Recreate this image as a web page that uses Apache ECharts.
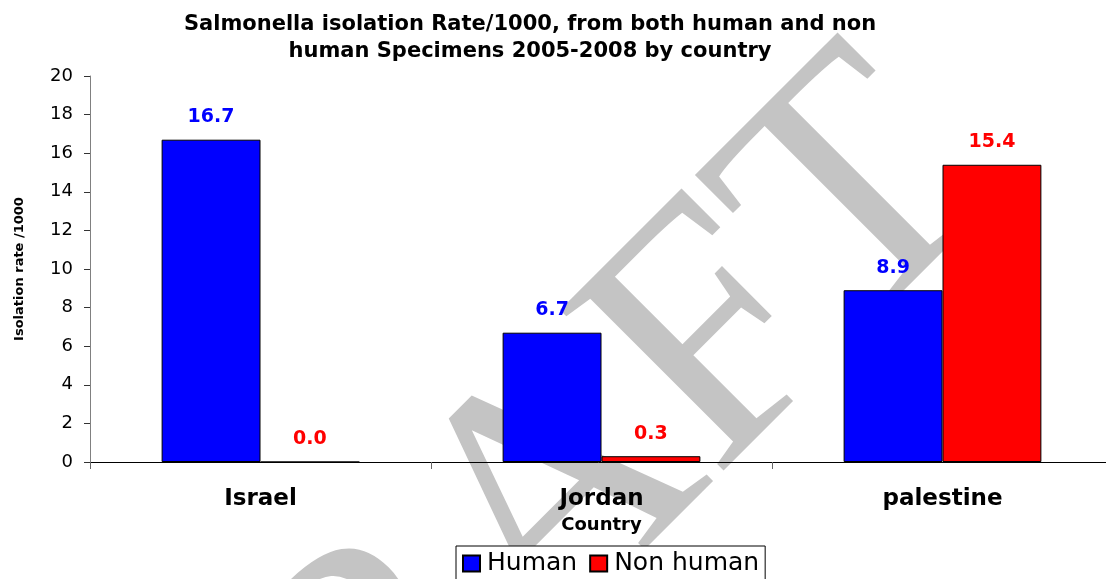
<!DOCTYPE html>
<html>
<head>
<meta charset="utf-8">
<script src="https://cdn.jsdelivr.net/npm/echarts@6/dist/echarts.min.js"></script>
<style>
  html, body { margin: 0; padding: 0; background: #ffffff; }
  #chart { width: 1106px; height: 579px; }
</style>
</head>
<body>
<div id="chart"></div>
<script>
const countries = ['Israel', 'Jordan', 'palestine']
const human = [16.7, 6.7, 8.9]
const nonHuman = [0.0, 0.3, 15.4]
const seriesNames = ['Human', 'Non human']

const font = '"DejaVu Sans", Verdana, sans-serif'

const chart = echarts.init(document.getElementById('chart'))

function barSeries(name, data, color) {
  return {
    name: name,
    type: 'bar',
    data: data,
    barGap: 0,
    barCategoryGap: '42%',
    itemStyle: { color: color, borderColor: '#000000', borderWidth: 1 },
    label: {
      show: true,
      position: 'top',
      distance: 13,
      color: color,
      fontFamily: font,
      fontWeight: 'bold',
      fontSize: 19,
      formatter: (p) => p.value.toFixed(1),
    },
  }
}

chart.setOption({
  animation: false,
  backgroundColor: '#ffffff',
  title: {
    text: 'Salmonella isolation Rate/1000, from both human and non\nhuman Specimens 2005-2008 by country',
    left: 525,
    top: 6,
    textAlign: 'center',
    textStyle: {
      fontFamily: font,
      fontWeight: 'bold',
      fontSize: 21,
      lineHeight: 27,
      color: '#000000',
    },
  },
  // grey DRAFT watermark behind the plot
  graphic: [
    {
      type: 'text',
      z: -10,
      x: 533,
      y: 531,
      rotation: Math.PI / 4,
      style: {
        text: 'DRAFT',
        font: '350px "Liberation Serif", "Times New Roman", serif',
        fill: '#c4c4c4',
        align: 'center',
        verticalAlign: 'middle',
      },
    },
  ],
  legend: {
    data: seriesNames,
    left: 456,
    top: 546,
    backgroundColor: '#ffffff',
    borderColor: '#000000',
    borderWidth: 1,
    borderRadius: 0,
    padding: [5, 6, 8, 6],
    itemWidth: 17,
    itemHeight: 16,
    itemGap: 12,
    icon: 'rect',
    textStyle: { fontFamily: font, fontSize: 25, color: '#000000', padding: [0, 0, 0, 2] },
  },
  grid: {
    left: 90,
    top: 76,
    width: 1023,
    height: 386,
    outerBoundsMode: 'none',
  },
  xAxis: {
    type: 'category',
    data: countries,
    name: 'Country',
    nameLocation: 'middle',
    nameGap: 54,
    nameTextStyle: { fontFamily: font, fontWeight: 'bold', fontSize: 18, color: '#000000' },
    axisLine: { lineStyle: { color: '#000000', width: 1 } },
    axisTick: { show: true, length: 7, lineStyle: { color: '#666666' } },
    axisLabel: { fontFamily: font, fontWeight: 'bold', fontSize: 23, color: '#000000', margin: 26 },
  },
  yAxis: {
    type: 'value',
    min: 0,
    max: 20,
    interval: 2,
    name: 'Isolation rate /1000',
    nameLocation: 'middle',
    nameGap: 64,
    nameRotate: 90,
    nameTextStyle: { fontFamily: font, fontWeight: 'bold', fontSize: 13, color: '#000000' },
    axisLine: { show: true, lineStyle: { color: '#808080', width: 1 } },
    axisTick: { show: true, length: 6, lineStyle: { color: '#333333' } },
    axisLabel: { fontFamily: font, fontSize: 18, color: '#000000', margin: 17 },
    splitLine: { show: false },
  },
  series: [
    barSeries(seriesNames[0], human, '#0000ff'),
    barSeries(seriesNames[1], nonHuman, '#ff0000'),
  ],
})
</script>
</body>
</html>
